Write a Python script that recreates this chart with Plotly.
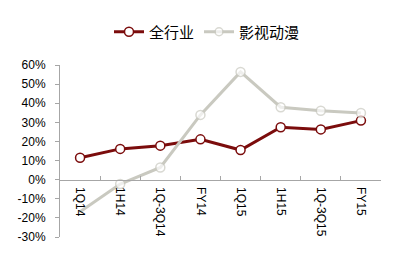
import plotly.graph_objects as go

categories = ["1Q14", "1H14", "1Q-3Q14", "FY14", "1Q15", "1H15", "1Q-3Q15", "FY15"]
all_industry = [11.5, 16.1, 17.8, 21.1, 15.5, 27.4, 26.3, 30.9]
film_anime = [-16.8, -2.3, 6.4, 33.9, 56.4, 37.9, 36.1, 34.9]
y_ticks = [-30, -20, -10, 0, 10, 20, 30, 40, 50, 60]
y_tick_labels = [f"{v}%" for v in y_ticks]

RED = "#7B0C0C"
GRAY = "#C9C9C0"

fig = go.Figure()
fig.add_trace(go.Scatter(
    x=categories, y=all_industry, name="全行业", mode="lines+markers",
    line=dict(color=RED, width=3),
    marker=dict(size=9, color="white", line=dict(color=RED, width=1.5)),
))
fig.add_trace(go.Scatter(
    x=categories, y=film_anime, name="影视动漫", mode="lines+markers",
    line=dict(color=GRAY, width=3),
    marker=dict(size=[0, 9, 9, 9, 9, 9, 9, 9], color="white",
                line=dict(color=GRAY, width=1.5)),
))

fig.update_layout(
    width=415, height=265,
    margin=dict(l=60, r=34, t=65, b=28, autoexpand=False),
    paper_bgcolor="white", plot_bgcolor="white",
    font=dict(family="Liberation Sans, Arial", size=12, color="black"),
    showlegend=True,
    legend=dict(orientation="h", x=207 / 415, xanchor="center", xref="container",
                y=1 - 32 / 265, yanchor="middle", yref="container",
                font=dict(family="Noto Sans CJK SC", size=15),
                itemwidth=30, tracegroupgap=0),
    xaxis=dict(
        type="category", range=[-0.5, 7.5],
        anchor="free", position=1/3,
        showline=True, linecolor="#A6A6A6", linewidth=1,
        ticks="inside", ticklen=4, tickcolor="#A6A6A6", tickson="boundaries",
        tickangle=90, showgrid=False, zeroline=False,
        ticklabelstandoff=4,
        tickfont=dict(size=12),
    ),
    yaxis=dict(
        range=[-30, 60], tickvals=y_ticks, ticktext=y_tick_labels,
        showline=True, linecolor="#A6A6A6", linewidth=1,
        ticks="outside", ticklen=4, tickcolor="#A6A6A6",
        showgrid=False, zeroline=False,
        ticklabelstandoff=7,
        tickfont=dict(size=12),
    ),
)

fig.write_html("out.html")
